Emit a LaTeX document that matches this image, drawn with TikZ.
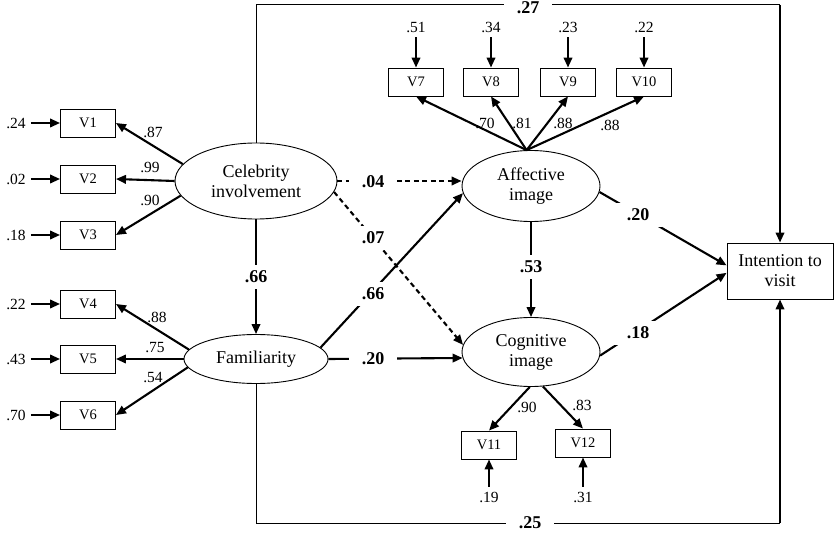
\documentclass[tikz,border=0pt]{standalone}
\usepackage{fontspec}
\setmainfont{Liberation Serif}
\usetikzlibrary{shapes.geometric,arrows.meta}
\tikzset{
  latent/.style={ellipse,draw,line width=0.9pt,inner sep=0pt,align=center,font=\fontsize{18}{20}\selectfont},
  obs/.style={rectangle,draw,line width=0.9pt,minimum width=55pt,minimum height=28pt,inner sep=0pt,font=\fontsize{14.5}{16}\selectfont},
  err/.style={inner sep=5pt,font=\fontsize{15.5}{17}\selectfont},
  load/.style={inner sep=0pt,font=\fontsize{15.5}{17}\selectfont},
  coef/.style={fill=white,inner xsep=13pt,inner ysep=6pt,font=\bfseries\fontsize{18}{20}\selectfont},
  arr/.style={->,line width=2.1pt},
  link/.style={line width=1pt}
}
\begin{document}
\begin{tikzpicture}[x=1pt,y=-1pt,>={Triangle[length=10pt,width=8.5pt]}]
\useasboundingbox (0,0) rectangle (834,534);
\node [latent,minimum width=162pt,minimum height=76pt] (cel) at (256,181) {Celebrity\\involvement};
\node [latent,minimum width=144pt,minimum height=49pt] (fam) at (256,359) {Familiarity};
\node [latent,minimum width=138pt,minimum height=71pt] (aff) at (531,186) {Affective\\image};
\node [latent,minimum width=138pt,minimum height=69pt] (cog) at (531,352) {Cognitive\\image};
\node [obs,minimum width=106pt,minimum height=56pt,align=center,font=\fontsize{18}{20}\selectfont] (int) at (780,271) {Intention to\\visit};
\node [obs] (v1) at (88,123) {V1};
\node [obs] (v2) at (88,179) {V2};
\node [obs] (v3) at (88,235) {V3};
\node [obs] (v4) at (88,304) {V4};
\node [obs] (v5) at (88,359) {V5};
\node [obs] (v6) at (88,415) {V6};
\node [obs] (v7) at (416,82) {V7};
\node [obs] (v8) at (491,82) {V8};
\node [obs] (v9) at (568,82) {V9};
\node [obs] (v10) at (644,82) {V10};
\node [obs] (v11) at (489,445) {V11};
\node [obs] (v12) at (583,443) {V12};
\node [err] (e1) at (16,123) {.24};
\node [err] (e2) at (16,179) {.02};
\node [err] (e3) at (16,235) {.18};
\node [err] (e4) at (16,304) {.22};
\node [err] (e5) at (16,359) {.43};
\node [err] (e6) at (16,415) {.70};
\node [err] (e7) at (416,27) {.51};
\node [err] (e8) at (491,27) {.34};
\node [err] (e9) at (568,27) {.23};
\node [err] (e10) at (644,27) {.22};
\node [err] (e11) at (489,497) {.19};
\node [err] (e12) at (583,497) {.31};
\draw [arr] (e1) -- (v1);
\draw [arr] (e2) -- (v2);
\draw [arr] (e3) -- (v3);
\draw [arr] (e4) -- (v4);
\draw [arr] (e5) -- (v5);
\draw [arr] (e6) -- (v6);
\draw [arr] (e7) -- (v7);
\draw [arr] (e8) -- (v8);
\draw [arr] (e9) -- (v9);
\draw [arr] (e10) -- (v10);
\draw [arr] (e11) -- (v11);
\draw [arr] (e12) -- (v12);
\draw [arr] (cel.167) -- (v1.east);
\draw [arr] (cel.west) -- (v2.east);
\draw [arr] (cel.191) -- (v3.east);
\draw [arr] (fam.172) -- (v4.east);
\draw [arr] (fam.west) -- (v5.east);
\draw [arr] (fam.187) -- (v6.east);
\draw [arr] (aff.97) -- (v7.south);
\draw [arr] (aff.97) -- (v8.south);
\draw [arr] (aff.97) -- (v9.south);
\draw [arr] (aff.97) -- (v10.south);
\draw [arr] (cog.268) -- (v11.north);
\draw [arr] (cog.289) -- (v12.north);
\node [load] (l1) at (153,132) {.87};
\node [load] (l2) at (150,167) {.99};
\node [load] (l3) at (150,200) {.90};
\node [load] (l4) at (157,317) {.88};
\node [load] (l5) at (155,348) {.75};
\node [load] (l6) at (153,378) {.54};
\node [load] (l7) at (485,123) {.70};
\node [load] (l8) at (522,123) {.81};
\node [load] (l9) at (563,123) {.88};
\node [load] (l10) at (610,125) {.88};
\node [load] (l11) at (527,407) {.90};
\node [load] (l12) at (582,405) {.83};
\coordinate (tr) at (780,5);
\coordinate (br) at (780,523);
\draw [link] (cel.north) |- (tr);
\draw [arr] (tr) -- (int.north);
\draw [link] (fam.south) |- (br);
\draw [arr] (br) -- (int.south);
\draw [arr] (cel) -- (fam);
\draw [arr,dashed,dash pattern=on 5pt off 3.5pt] (cel.east) -- (aff.west |- cel.east);
\draw [arr,dashed,dash pattern=on 5pt off 3.5pt] (cel.-8) -- (cog.174);
\draw [arr] (fam.10) -- (aff.186);
\draw [arr] (fam.east) -- (cog.185);
\draw [arr] (aff) -- (cog);
\draw [arr] (aff.-5) -- (int.174);
\draw [arr] (cog.-3) -- (int.182);
\node [coef] (c1) at (256,277) {.66};
\node [coef] (c2) at (373,182) {.04};
\node [coef] (c3) at (373,238) {.07};
\node [coef] (c4) at (373,294) {.66};
\node [coef] (c5) at (373,359) {.20};
\node [coef] (c6) at (531,267) {.53};
\node [coef] (c7) at (638,215) {.20};
\node [coef] (c8) at (638,333) {.18};
\node [coef] (c9) at (528,8) {.27};
\node [coef] (c10) at (530,523) {.25};
\end{tikzpicture}
\end{document}
